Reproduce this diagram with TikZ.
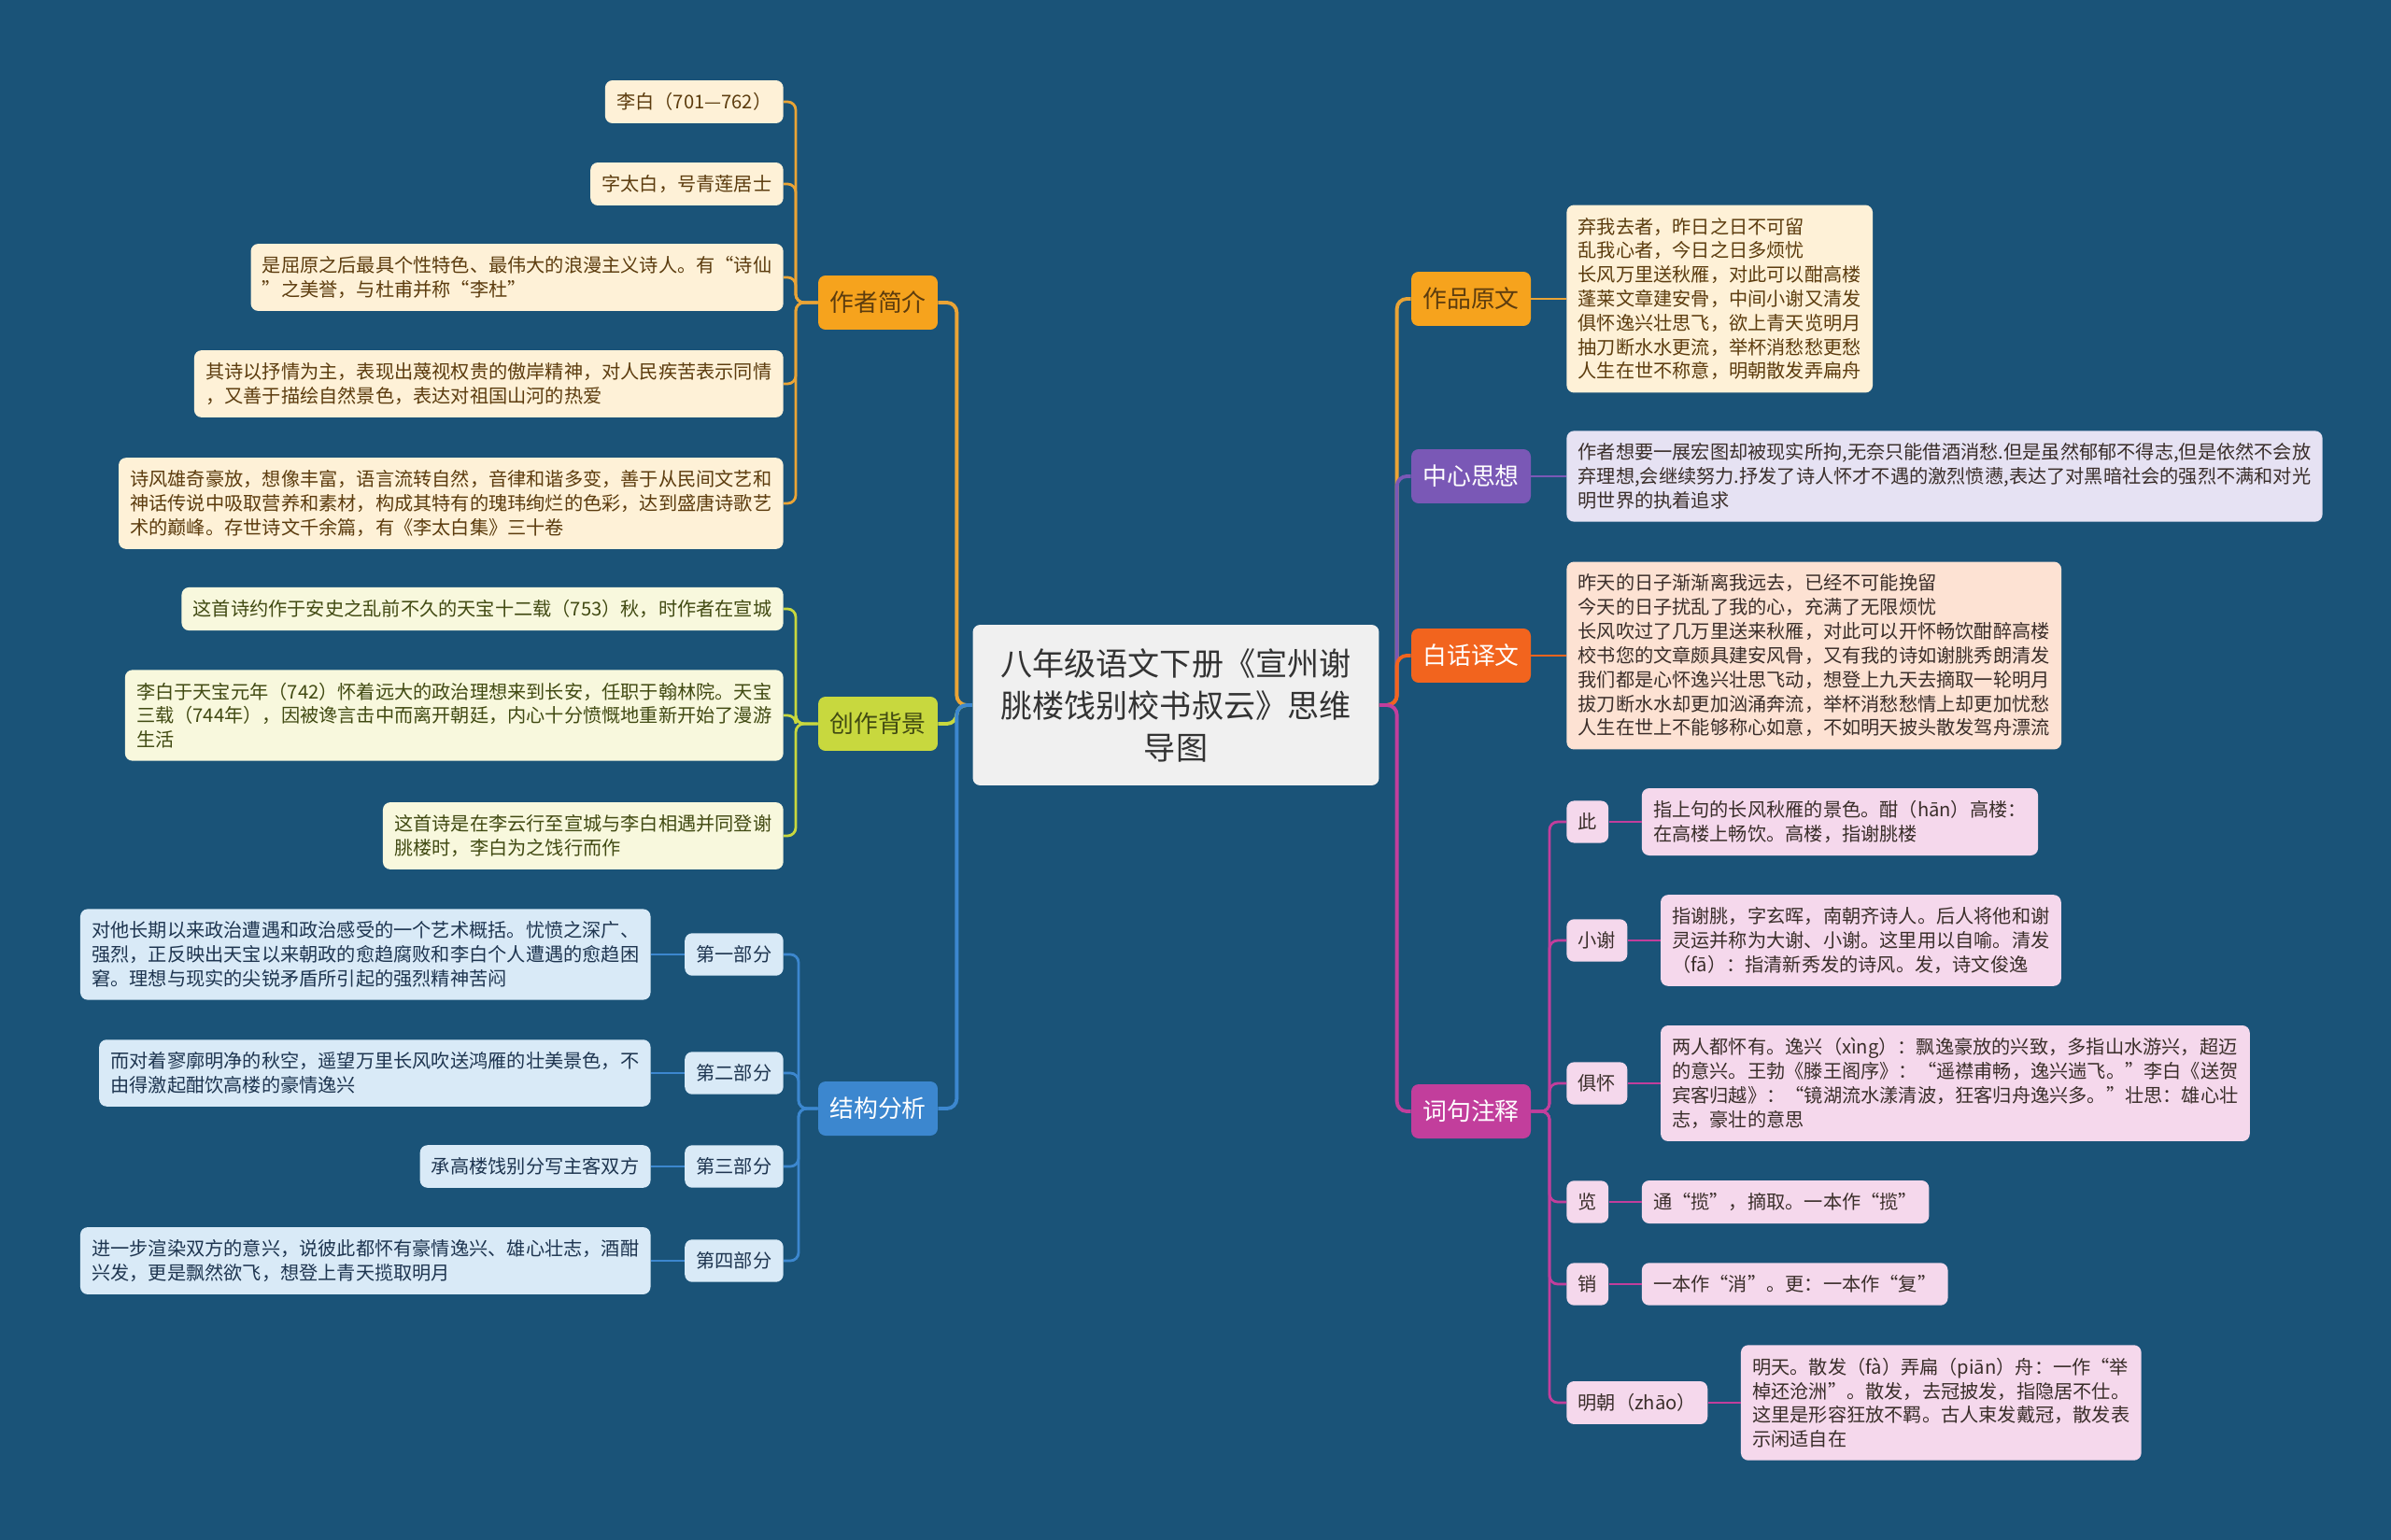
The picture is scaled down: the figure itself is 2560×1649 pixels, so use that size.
\documentclass[tikz,border=0pt]{standalone}
\usepackage{fontspec}
\setmainfont{Noto Sans CJK SC}
\usepackage{tikz}
\usetikzlibrary{calc, positioning}
\definecolor{bgblue}{HTML}{1A5378}
\definecolor{titlefill}{HTML}{F0F0F0}
\definecolor{titletext}{HTML}{333333}
\definecolor{goldA}{HTML}{F6A31D}
\definecolor{goldline}{HTML}{EAA436}
\definecolor{goldleaf}{HTML}{FEF1D7}
\definecolor{goldtext}{HTML}{5C3C0E}
\definecolor{limeA}{HTML}{C8D83E}
\definecolor{limeleaf}{HTML}{F8F8DD}
\definecolor{limetext}{HTML}{414A12}
\definecolor{blueA}{HTML}{3C87CF}
\definecolor{blueleaf}{HTML}{D9EAF7}
\definecolor{bluetext}{HTML}{1E3550}
\definecolor{violetA}{HTML}{7A58B6}
\definecolor{violetleaf}{HTML}{E6E2F3}
\definecolor{redA}{HTML}{F2641E}
\definecolor{redleaf}{HTML}{FDE2D3}
\definecolor{pinkA}{HTML}{C23E9C}
\definecolor{pinkleaf}{HTML}{F5D8EC}
\definecolor{darktext}{HTML}{3A2E2A}
\newcommand\leaffont{\fontsize{11.5pt}{14.7pt}\selectfont}
\newcommand\branchfont{\fontsize{14.7pt}{18pt}\selectfont}
\newcommand\titlefont{\fontsize{19.4pt}{25.6pt}\selectfont}
\tikzset{
  box/.style={rounded corners=4.5pt, inner xsep=7pt, inner ysep=7.6pt, align=left, font=\leaffont},
  branch/.style={box, font=\branchfont, align=center, inner xsep=2pt, inner ysep=2pt,
    minimum width=2.56cm, minimum height=1.16cm},
  link/.style={line width=1.6pt, rounded corners=5pt},
  trunk/.style={line width=2.2pt, rounded corners=6pt},
}

\begin{document}
\begin{tikzpicture}[x=0.02cm, y=-0.02cm]
  \fill[bgblue] (0,0) rectangle (2560,1649);
  \useasboundingbox (0,0) rectangle (2560,1649);

  % centre
  \node[box, fill=titlefill, text=titletext, font=\titlefont, align=center,
    minimum width=8.7cm, minimum height=3.44cm] (title) at (1259,755)
    {八年级语文下册《宣州谢\\朓楼饯别校书叔云》思维\\导图};

  % left branches
  \node[branch, fill=goldA, text=goldtext] (zz) at (940,324) {作者简介};
  \node[branch, fill=limeA, text=limetext] (cz) at (940,775) {创作背景};
  \node[branch, fill=blueA, text=white] (jg) at (940,1187) {结构分析};

  % right branches
  \node[branch, fill=goldA, text=goldtext] (yw) at (1575,320) {作品原文};
  \node[branch, fill=violetA, text=white] (zx) at (1575,510) {中心思想};
  \node[branch, fill=redA, text=white] (bh) at (1575,702) {白话译文};
  \node[branch, fill=pinkA, text=white] (zs) at (1575,1190) {词句注释};

  % 作者简介
  \node[box, fill=goldleaf, text=goldtext, anchor=east] (a1) at (839,109) {李白（701—762）};
  \node[box, fill=goldleaf, text=goldtext, anchor=east] (a2) at (839,197) {字太白，号青莲居士};
  \node[box, fill=goldleaf, text=goldtext, anchor=east] (a3) at (839,297)
    {是屈原之后最具个性特色、最伟大的浪漫主义诗人。有“诗仙\\”之美誉，与杜甫并称“李杜”};
  \node[box, fill=goldleaf, text=goldtext, anchor=east] (a4) at (839,411)
    {其诗以抒情为主，表现出蔑视权贵的傲岸精神，对人民疾苦表示同情\\，又善于描绘自然景色，表达对祖国山河的热爱};
  \node[box, fill=goldleaf, text=goldtext, anchor=east] (a5) at (839,539)
    {诗风雄奇豪放，想像丰富，语言流转自然，音律和谐多变，善于从民间文艺和\\神话传说中吸取营养和素材，构成其特有的瑰玮绚烂的色彩，达到盛唐诗歌艺\\术的巅峰。存世诗文千余篇，有《李太白集》三十卷};

  % 创作背景
  \node[box, fill=limeleaf, text=limetext, anchor=east] (b1) at (839,652)
    {这首诗约作于安史之乱前不久的天宝十二载（753）秋，时作者在宣城};
  \node[box, fill=limeleaf, text=limetext, anchor=east] (b2) at (839,766)
    {李白于天宝元年（742）怀着远大的政治理想来到长安，任职于翰林院。天宝\\三载（744年），因被谗言击中而离开朝廷，内心十分愤慨地重新开始了漫游\\生活};
  \node[box, fill=limeleaf, text=limetext, anchor=east] (b3) at (839,895)
    {这首诗是在李云行至宣城与李白相遇并同登谢\\朓楼时，李白为之饯行而作};

  % 结构分析
  \node[box, fill=blueleaf, text=bluetext, anchor=east] (p1) at (839,1022) {第一部分};
  \node[box, fill=blueleaf, text=bluetext, anchor=east] (p2) at (839,1149) {第二部分};
  \node[box, fill=blueleaf, text=bluetext, anchor=east] (p3) at (839,1249) {第三部分};
  \node[box, fill=blueleaf, text=bluetext, anchor=east] (p4) at (839,1350) {第四部分};
  \node[box, fill=blueleaf, text=bluetext, left=0.72cm of p1] (q1)
    {对他长期以来政治遭遇和政治感受的一个艺术概括。忧愤之深广、\\强烈，正反映出天宝以来朝政的愈趋腐败和李白个人遭遇的愈趋困\\窘。理想与现实的尖锐矛盾所引起的强烈精神苦闷};
  \node[box, fill=blueleaf, text=bluetext, left=0.72cm of p2] (q2)
    {而对着寥廓明净的秋空，遥望万里长风吹送鸿雁的壮美景色，不\\由得激起酣饮高楼的豪情逸兴};
  \node[box, fill=blueleaf, text=bluetext, left=0.72cm of p3] (q3) {承高楼饯别分写主客双方};
  \node[box, fill=blueleaf, text=bluetext, left=0.72cm of p4] (q4)
    {进一步渲染双方的意兴，说彼此都怀有豪情逸兴、雄心壮志，酒酣\\兴发，更是飘然欲飞，想登上青天揽取明月};

  % 作品原文, 中心思想, 白话译文
  \node[box, fill=goldleaf, text=goldtext, anchor=west] (ywt) at (1677,320)
    {弃我去者，昨日之日不可留\\乱我心者，今日之日多烦忧\\长风万里送秋雁，对此可以酣高楼\\蓬莱文章建安骨，中间小谢又清发\\俱怀逸兴壮思飞，欲上青天览明月\\抽刀断水水更流，举杯消愁愁更愁\\人生在世不称意，明朝散发弄扁舟};
  \node[box, fill=violetleaf, text=darktext, anchor=west] (zxt) at (1677,510)
    {作者想要一展宏图却被现实所拘,无奈只能借酒消愁.但是虽然郁郁不得志,但是依然不会放\\弃理想,会继续努力.抒发了诗人怀才不遇的激烈愤懑,表达了对黑暗社会的强烈不满和对光\\明世界的执着追求};
  \node[box, fill=redleaf, text=darktext, anchor=west] (bht) at (1677,702)
    {昨天的日子渐渐离我远去，已经不可能挽留\\今天的日子扰乱了我的心，充满了无限烦忧\\长风吹过了几万里送来秋雁，对此可以开怀畅饮酣醉高楼\\校书您的文章颇具建安风骨，又有我的诗如谢朓秀朗清发\\我们都是心怀逸兴壮思飞动，想登上九天去摘取一轮明月\\拔刀断水水却更加汹涌奔流，举杯消愁愁情上却更加忧愁\\人生在世上不能够称心如意，不如明天披头散发驾舟漂流};

  % 词句注释
  \node[box, fill=pinkleaf, text=darktext, anchor=west] (s1) at (1677,880) {此};
  \node[box, fill=pinkleaf, text=darktext, anchor=west] (s2) at (1677,1007) {小谢};
  \node[box, fill=pinkleaf, text=darktext, anchor=west] (s3) at (1677,1160) {俱怀};
  \node[box, fill=pinkleaf, text=darktext, anchor=west] (s4) at (1677,1287) {览};
  \node[box, fill=pinkleaf, text=darktext, anchor=west] (s5) at (1677,1375) {销};
  \node[box, fill=pinkleaf, text=darktext, anchor=west] (s6) at (1677,1502) {明朝（zhāo）};
  \node[box, fill=pinkleaf, text=darktext, right=0.7cm of s1] (t1)
    {指上句的长风秋雁的景色。酣（hān）高楼：\\在高楼上畅饮。高楼，指谢朓楼};
  \node[box, fill=pinkleaf, text=darktext, right=0.7cm of s2] (t2)
    {指谢朓，字玄晖，南朝齐诗人。后人将他和谢\\灵运并称为大谢、小谢。这里用以自喻。清发\\（fā）：指清新秀发的诗风。发，诗文俊逸};
  \node[box, fill=pinkleaf, text=darktext, right=0.7cm of s3] (t3)
    {两人都怀有。逸兴（xìng）：飘逸豪放的兴致，多指山水游兴，超迈\\的意兴。王勃《滕王阁序》：“遥襟甫畅，逸兴遄飞。”李白《送贺\\宾客归越》：“镜湖流水漾清波，狂客归舟逸兴多。”壮思：雄心壮\\志，豪壮的意思};
  \node[box, fill=pinkleaf, text=darktext, right=0.7cm of s4] (t4) {通“揽”，摘取。一本作“揽”};
  \node[box, fill=pinkleaf, text=darktext, right=0.7cm of s5] (t5) {一本作“消”。更：一本作“复”};
  \node[box, fill=pinkleaf, text=darktext, right=0.7cm of s6] (t6)
    {明天。散发（fà）弄扁（piān）舟：一作“举\\棹还沧洲”。散发，去冠披发，指隐居不仕。\\这里是形容狂放不羁。古人束发戴冠，散发表\\示闲适自在};

  % connectors from the centre
  \draw[trunk, goldline] (title.west) -| ($(zz.east)+(20,0)$) -- (zz.east);
  \draw[trunk, limeA] (title.west) -| ($(cz.east)+(20,0)$) -- (cz.east);
  \draw[trunk, blueA] (title.west) -| ($(jg.east)+(20,0)$) -- (jg.east);
  \draw[trunk, goldline] (title.east) -| ($(yw.west)+(-15,0)$) -- (yw.west);
  \draw[trunk, violetA] (title.east) -| ($(zx.west)+(-15,0)$) -- (zx.west);
  \draw[trunk, redA] (title.east) -| ($(bh.west)+(-15,0)$) -- (bh.west);
  \draw[trunk, pinkA] (title.east) -| ($(zs.west)+(-15,0)$) -- (zs.west);

  % connectors to the leaves
  \foreach \n in {a1,a2,a3,a4,a5}
    \draw[link, goldline] (zz.west) -| ($(\n.east)+(13,0)$) -- (\n.east);
  \foreach \n in {b1,b2,b3}
    \draw[link, limeA] (cz.west) -| ($(\n.east)+(13,0)$) -- (\n.east);
  \foreach \n/\m in {p1/q1,p2/q2,p3/q3,p4/q4} {
    \draw[link, blueA] (jg.west) -| ($(\n.east)+(16,0)$) -- (\n.east);
    \draw[link, blueA] (\n.west) -- (\m.east);
  }
  \draw[link, goldline] (yw.east) -- (ywt.west);
  \draw[link, violetA] (zx.east) -- (zxt.west);
  \draw[link, redA] (bh.east) -- (bht.west);
  \foreach \n/\m in {s1/t1,s2/t2,s3/t3,s4/t4,s5/t5,s6/t6} {
    \draw[link, pinkA] (zs.east) -| ($(\n.west)+(-18,0)$) -- (\n.west);
    \draw[link, pinkA] (\n.east) -- (\m.west);
  }
\end{tikzpicture}
\end{document}
